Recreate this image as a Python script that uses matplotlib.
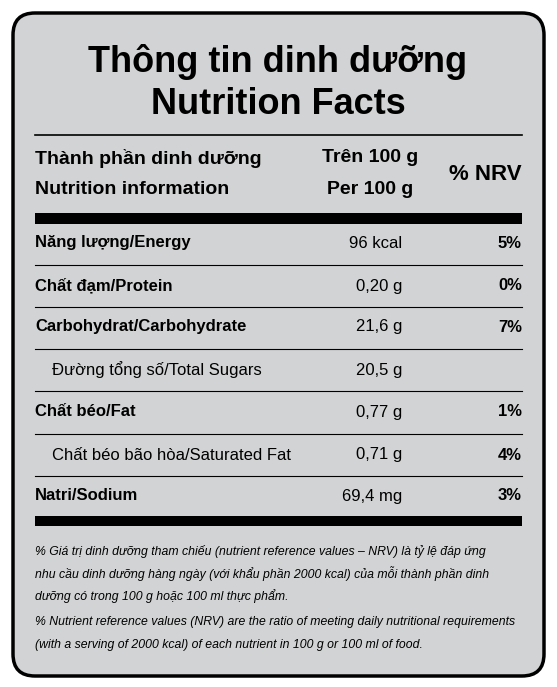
import matplotlib
matplotlib.use("Agg")
import matplotlib.pyplot as plt
from matplotlib.patches import FancyBboxPatch, Rectangle

nutrients = ["Năng lượng/Energy", "Chất đạm/Protein", "Carbohydrat/Carbohydrate",
             "Đường tổng số/Total Sugars", "Chất béo/Fat",
             "Chất béo bão hòa/Saturated Fat", "Natri/Sodium"]
amounts = ["96 kcal", "0,20 g", "21,6 g", "20,5 g", "0,77 g", "0,71 g", "69,4 mg"]
nrv = ["5%", "0%", "7%", "", "1%", "4%", "3%"]
is_sub = [False, False, False, True, False, True, False]
footnote = [
    "% Giá trị dinh dưỡng tham chiếu (nutrient reference values – NRV) là tỷ lệ đáp ứng",
    "nhu cầu dinh dưỡng hàng ngày (với khẩu phần 2000 kcal) của mỗi thành phần dinh",
    "dưỡng có trong 100 g hoặc 100 ml thực phẩm.",
    "% Nutrient reference values (NRV) are the ratio of meeting daily nutritional requirements",
    "(with a serving of 2000 kcal) of each nutrient in 100 g or 100 ml of food.",
]

plt.rcParams['font.family'] = ["Liberation Sans", "DejaVu Sans"]

fig = plt.figure(figsize=(5.57, 6.87), dpi=100)
ax = fig.add_axes([0, 0, 1, 1])
ax.set_xlim(0, 557); ax.set_ylim(687, 0); ax.axis("off")

ax.add_patch(FancyBboxPatch((13, 13), 531, 663, boxstyle="round,pad=0,rounding_size=22",
                            fc="#d1d3d4", ec="black", lw=2.5))

ax.text(278, 62, "Thông tin dinh dưỡng", ha="center", va="center", fontsize=26, weight="bold")
ax.text(278, 104, "Nutrition Facts", ha="center", va="center", fontsize=26, weight="bold")
ax.plot([35, 522], [135, 135], color="black", lw=1.2)

hs = 14
ax.text(35, 158, "Thành phần dinh dưỡng", ha="left", va="center", fontsize=hs, weight="bold")
ax.text(35, 190, "Nutrition information", ha="left", va="center", fontsize=hs, weight="bold")
ax.text(370, 158, "Trên 100 g", ha="center", va="center", fontsize=hs, weight="bold")
ax.text(370, 190, "Per 100 g", ha="center", va="center", fontsize=hs, weight="bold")
ax.text(522, 175, "% NRV", ha="right", va="center", fontsize=hs + 2, weight="bold")

ax.add_patch(Rectangle((35, 213), 487, 11, fc="black", ec="none"))

row_y = [243, 286, 327, 370, 412, 455, 496]
rs = 12
for i, (n, a, p, sub) in enumerate(zip(nutrients, amounts, nrv, is_sub)):
    y = row_y[i]
    ax.text(52 if sub else 35, y, n, ha="left", va="center", fontsize=rs,
            weight="normal" if sub else "bold")
    ax.text(402, y, a, ha="right", va="center", fontsize=rs)
    if p:
        ax.text(522, y, p, ha="right", va="center", fontsize=rs, weight="bold")
    if i < len(nutrients) - 1:
        yl = (row_y[i] + row_y[i + 1]) / 2
        ax.plot([35, 522], [yl, yl], color="black", lw=0.8)

ax.add_patch(Rectangle((35, 516), 487, 10, fc="black", ec="none"))

fy = [552, 574, 596, 622, 645]
for y, t in zip(fy, footnote):
    ax.text(35, y, t, ha="left", va="center", fontsize=8.8, style="italic")

fig.savefig("out.png", dpi=100, facecolor="white")
